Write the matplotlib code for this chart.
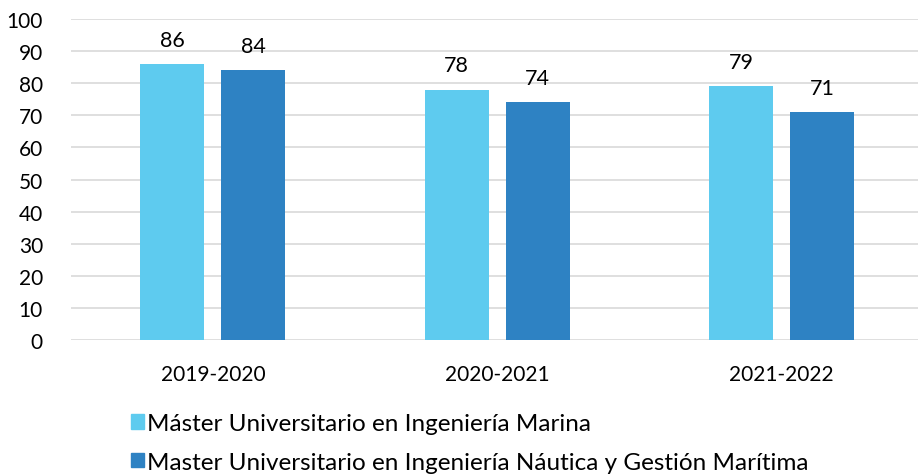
import numpy as np
import matplotlib.pyplot as plt
from matplotlib.patches import Patch

plt.rcParams['font.family'] = ['Lato', 'DejaVu Sans']

# Data
years = ["2019-2020", "2020-2021", "2021-2022"]
marina = [86, 78, 79]
nautica = [84, 74, 71]
series_names = ["Máster Universitario en Ingeniería Marina",
                "Master Universitario en Ingeniería Náutica y Gestión Marítima"]
yticks = list(range(0, 101, 10))

c_light = "#5ECBEF"
c_dark = "#2E82C3"

fig = plt.figure(figsize=(9.18, 4.77), dpi=100)
ax = fig.add_axes([0.077, 0.285, 0.923, 0.673])

x = np.arange(len(years))
w = 0.225
off = 0.142
b1 = ax.bar(x - off, marina, w, color=c_light, zorder=3)
b2 = ax.bar(x + off, nautica, w, color=c_dark, zorder=3)

for bars in (b1, b2):
    for rect in bars:
        ax.text(rect.get_x() + rect.get_width() / 2, rect.get_height() + 4.5,
                f"{rect.get_height():.0f}", ha="center", va="bottom", fontsize=15.5)

ax.set_xlim(-0.5, 2.48)
ax.set_ylim(0, 100)
ax.set_yticks(yticks)
ax.set_xticks(x)
ax.set_xticklabels(years)
ax.grid(axis="y", color="#d9d9d9", linewidth=1.2, zorder=0)
for s in ax.spines.values():
    s.set_visible(False)
ax.tick_params(axis="both", length=0, labelsize=15)
ax.tick_params(axis="y", pad=20)
ax.tick_params(axis="x", pad=17)

fig.legend(handles=[Patch(color=c_light), Patch(color=c_dark)], labels=series_names,
           loc="upper left", bbox_to_anchor=(0.143, 0.132), frameon=False, fontsize=17.5,
           handlelength=0.52, handleheight=0.52, handletextpad=0.12, labelspacing=0.72,
           borderaxespad=0, borderpad=0)

fig.savefig("out.png", dpi=100)
